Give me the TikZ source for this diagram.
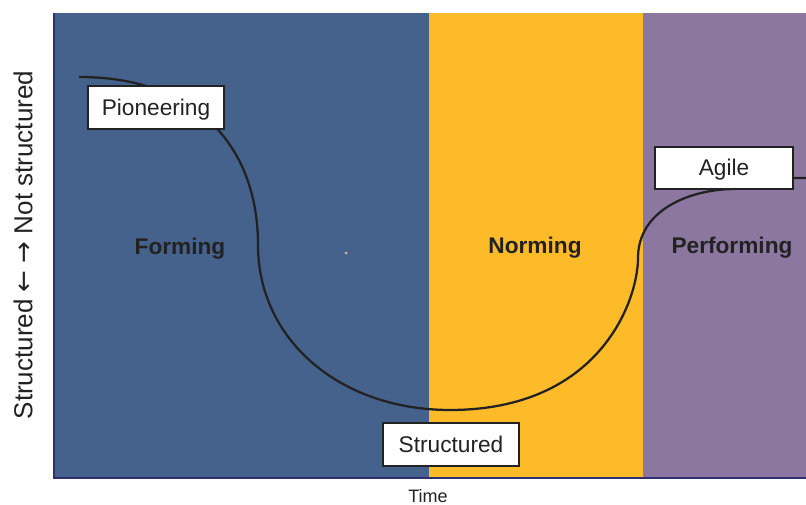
\documentclass[tikz,border=0pt]{standalone}
\usepackage{fontspec}
\setmainfont{Liberation Sans}
\newfontfamily\arrowfont{DejaVu Sans}
\definecolor{formblue}{HTML}{45628C}
\definecolor{normyellow}{HTML}{FDBB2A}
\definecolor{perfpurple}{HTML}{8B779F}
\definecolor{axisnavy}{HTML}{2E2F6E}
\definecolor{inkdark}{HTML}{222222}
\definecolor{speck}{HTML}{F2A7A0}

\begin{document}
\begin{tikzpicture}[x=0.75pt, y=-0.75pt,
    every node/.style={font=\fontsize{17}{20}\selectfont, text=inkdark},
    stage/.style={font=\fontsize{17}{20}\selectfont\bfseries},
    tag/.style={draw=inkdark, line width=1.6pt, fill=white, minimum width=102pt, minimum height=32pt, inner sep=0pt, text height=15pt, text depth=3.5pt},
    curve/.style={draw=inkdark, line width=1.7pt}]
			\useasboundingbox (0,0) rectangle (806,505);

			% Phases
			\fill[formblue] (54,13) rectangle (429,478);
			\fill[normyellow] (429,13) rectangle (643,478);
			\fill[perfpurple] (643,13) rectangle (806,478);
			\fill[speck] (346,253) circle (1.5);

			% Axes
			\draw[axisnavy, line width=1.5pt] (54,13) -- (54,478) -- (806,478);
			\node[rotate=90, font=\fontsize{19.5}{23}\selectfont] (ylab) at (23,245) {Structured {\arrowfont ←} {\arrowfont →} Not structured};
			\node[font=\fontsize{13.5}{16}\selectfont] (xlab) at (428,496) {Time};

			% Curve
			\coordinate (c0) at (79,77);
			\coordinate (c1) at (258,245);
			\coordinate (c2) at (450,410);
			\coordinate (c3) at (638,258);
			\coordinate (c4) at (735,189);
			\coordinate (c5) at (806,178);
			\draw[curve] (c0) .. controls (200,77) and (258,150) .. (c1)
				.. controls (258,340) and (340,410) .. (c2)
				.. controls (600,410) and (638,300) .. (c3)
				.. controls (638,210) and (690,189) .. (c4)
				.. controls (765,179) and (780,178) .. (c5);

			% Labels
			\node[stage] (forming) at (180,249) {Forming};
			\node[stage] (norming) at (535,248) {Norming};
			\node[stage] (performing) at (732,248) {Performing};
			\node[tag] (pioneering) at (156,107.5) {Pioneering};
			\node[tag, minimum width=103.5pt] (agile) at (724,168) {Agile};
			\node[tag] (structured) at (451,444.5) {Structured};
		\end{tikzpicture}
\end{document}
